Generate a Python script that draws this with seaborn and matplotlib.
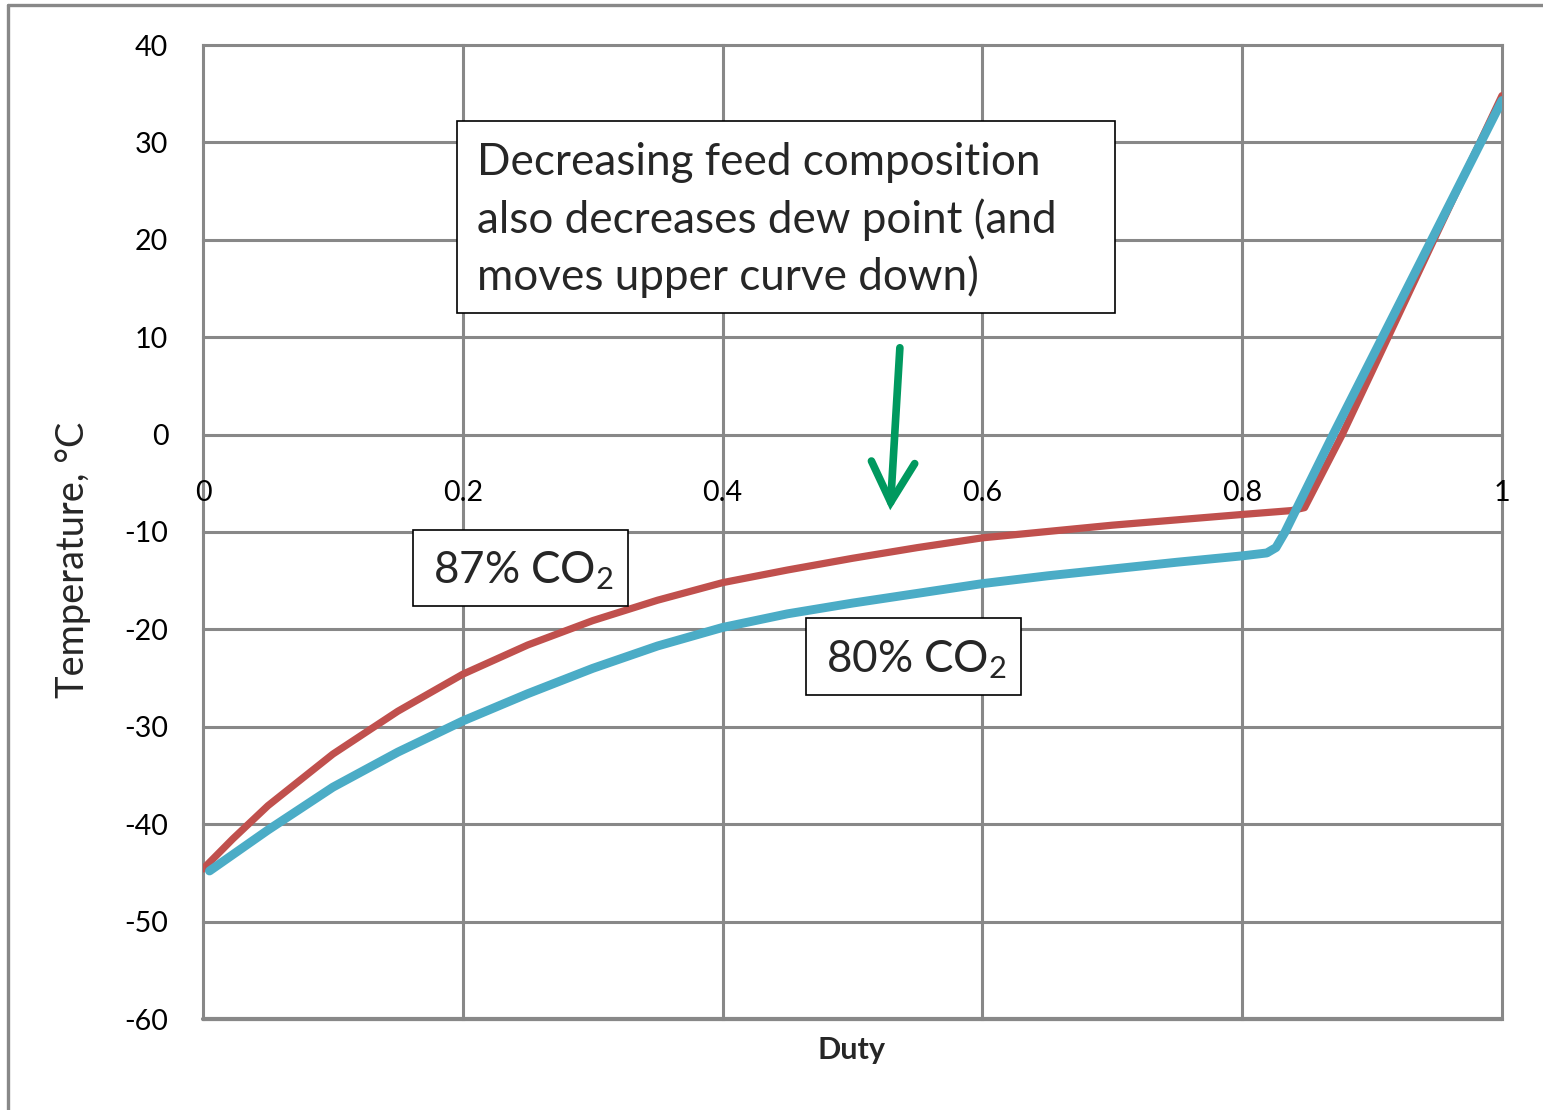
import matplotlib
matplotlib.use("Agg")
import matplotlib.pyplot as plt
from matplotlib.lines import Line2D
from matplotlib.patches import Rectangle, FancyArrowPatch
import seaborn as sns
import pandas as pd

# ---------------- data ----------------
duty_87 = [0.0, 0.023, 0.05, 0.1, 0.15, 0.2, 0.25, 0.3, 0.35, 0.4, 0.45, 0.5, 0.55,
           0.6, 0.65, 0.7, 0.75, 0.8, 0.838, 0.848, 0.877, 0.9, 0.95, 1.0]
temp_87 = [-44.6, -41.5, -38.1, -32.8, -28.4, -24.6, -21.6, -19.1, -17.0, -15.2, -13.9, -12.7, -11.6,
           -10.6, -9.95, -9.3, -8.75, -8.2, -7.8, -7.5, 0.0, 6.5, 20.7, 34.8]

duty_80 = [0.005, 0.05, 0.1, 0.15, 0.2, 0.25, 0.3, 0.35, 0.4, 0.45, 0.5, 0.55, 0.6,
           0.65, 0.7, 0.75, 0.8, 0.819, 0.826, 0.833, 0.87, 0.9, 0.95, 1.0]
temp_80 = [-44.8, -40.6, -36.2, -32.6, -29.4, -26.6, -24.0, -21.7, -19.8, -18.4, -17.3, -16.3, -15.3,
           -14.5, -13.8, -13.1, -12.45, -12.15, -11.6, -10.0, 0.0, 7.9, 21.1, 34.3]

x_ticks = [0, 0.2, 0.4, 0.6, 0.8, 1.0]
x_tick_labels = ["0", "0.2", "0.4", "0.6", "0.8", "1"]
y_ticks = [-60, -50, -40, -30, -20, -10, 0, 10, 20, 30, 40]
y_tick_labels = [str(v) for v in y_ticks]

label_87 = "87% CO"
label_80 = "80% CO"
note_lines = ["Decreasing feed composition",
              "also decreases dew point (and",
              "moves upper curve down)"]

# ---------------- style ----------------
sns.set_style("white")
FONT = "Lato"
plt.rcParams["font.family"] = [FONT, "DejaVu Sans"]
plt.rcParams["mathtext.fontset"] = "custom"
plt.rcParams["mathtext.rm"] = FONT
plt.rcParams["mathtext.it"] = FONT

RED = "#C0504D"
BLUE = "#4BACC6"
GRID = "#888888"
GREEN = "#00995F"

W, H = 1543, 1110
fig = plt.figure(figsize=(W / 100, H / 100), dpi=100)
fig.patch.set_facecolor("white")
renderer = fig.canvas.get_renderer()


def fit(text, target_px, weight="normal", base=20.0):
    t = fig.text(0, 0, text, fontsize=base, weight=weight)
    w = t.get_window_extent(renderer).width
    t.remove()
    return base * target_px / w


fs_note = fit(note_lines[0], 563)
fs_tick = fit("-10", 44)
fs_ylabel = fit("Temperature, \u00b0C", 277)
fs_duty = fit("Duty", 68, weight="bold")

left, right, top, bottom = 203, 1502, 45, 1019
ax = fig.add_axes([left / W, 1 - bottom / H, (right - left) / W, (bottom - top) / H])
ax.set_facecolor("white")

df87 = pd.DataFrame({"Duty": duty_87, "T": temp_87})
df80 = pd.DataFrame({"Duty": duty_80, "T": temp_80})
sns.lineplot(data=df87, x="Duty", y="T", sort=False, color=RED, lw=5.2,
             solid_capstyle="round", solid_joinstyle="round", ax=ax, zorder=5)
sns.lineplot(data=df80, x="Duty", y="T", sort=False, color=BLUE, lw=6.4,
             solid_capstyle="round", solid_joinstyle="round", ax=ax, zorder=6)

ax.set_xlim(0, 1)
ax.set_ylim(-60, 40)
ax.set_xticks(x_ticks)
ax.set_xticklabels(x_tick_labels)
ax.set_yticks(y_ticks)
ax.set_yticklabels(y_tick_labels)
ax.set_xlabel("")
ax.set_ylabel("")

for s in ["left", "right", "top"]:
    ax.spines[s].set_visible(False)
ax.spines["bottom"].set_position(("data", 0))
ax.spines["bottom"].set_visible(False)

ax.grid(True, color=GRID, lw=2.2)
for gl in ax.xaxis.get_gridlines() + ax.yaxis.get_gridlines():
    gl.set_clip_on(False)
    gl.set_solid_capstyle("projecting")
ax.axhline(-60, color=GRID, lw=3.0, clip_on=False, zorder=1)

ax.tick_params(axis="x", length=0, pad=33, labelsize=fs_tick, labelcolor="black")
ax.tick_params(axis="y", direction="out", length=8, width=2.2, color=GRID,
               pad=17, labelsize=fs_tick, labelcolor="black")

# ---------------- annotations ----------------
def box(x0, x1, y0, y1):
    ax.add_patch(Rectangle((x0, y0), x1 - x0, y1 - y0, facecolor="white",
                           edgecolor="black", lw=1.2, zorder=8, clip_on=False))

box(0.1955, 0.7021, 12.48, 32.2)
for line, yb in zip(note_lines, [26.65, 20.70, 14.85]):
    ax.text(0.2109, yb, line, fontsize=fs_note, va="baseline", ha="left", zorder=9)

box(0.1617, 0.3272, -17.60, -9.795)
ax.text(0.1771, -15.24, label_87 + r"$_{\mathrm{2}}$", fontsize=fs_note,
        va="baseline", ha="left", zorder=9)

box(0.4642, 0.6297, -26.73, -18.83)
ax.text(0.4796, -24.37, label_80 + r"$_{\mathrm{2}}$", fontsize=fs_note,
        va="baseline", ha="left", zorder=9)

arrow = FancyArrowPatch((0.5366, 9.2), (0.5289, -8.05),
                        arrowstyle="->,head_length=2.4,head_width=1.3",
                        color=GREEN, lw=5.5, mutation_scale=12,
                        capstyle="round", joinstyle="miter", zorder=9)
ax.add_patch(arrow)

# axis titles
fig.text(73 / W, 1 - 560 / H, "Temperature, \u00b0C", rotation=90,
         ha="center", va="center", fontsize=fs_ylabel)
fig.text(852 / W, 1 - 1050 / H, "Duty", ha="center", va="center",
         fontsize=fs_duty, weight="bold")

# outer frame (left and top edges visible)
fig.add_artist(Line2D([8 / W, 8 / W], [0, 1 - 5 / H], color=GRID, lw=2.4,
                      transform=fig.transFigure))
fig.add_artist(Line2D([8 / W, 1], [1 - 5 / H, 1 - 5 / H], color=GRID, lw=2.4,
                      transform=fig.transFigure))

fig.savefig("out.png", dpi=100, facecolor="white")
